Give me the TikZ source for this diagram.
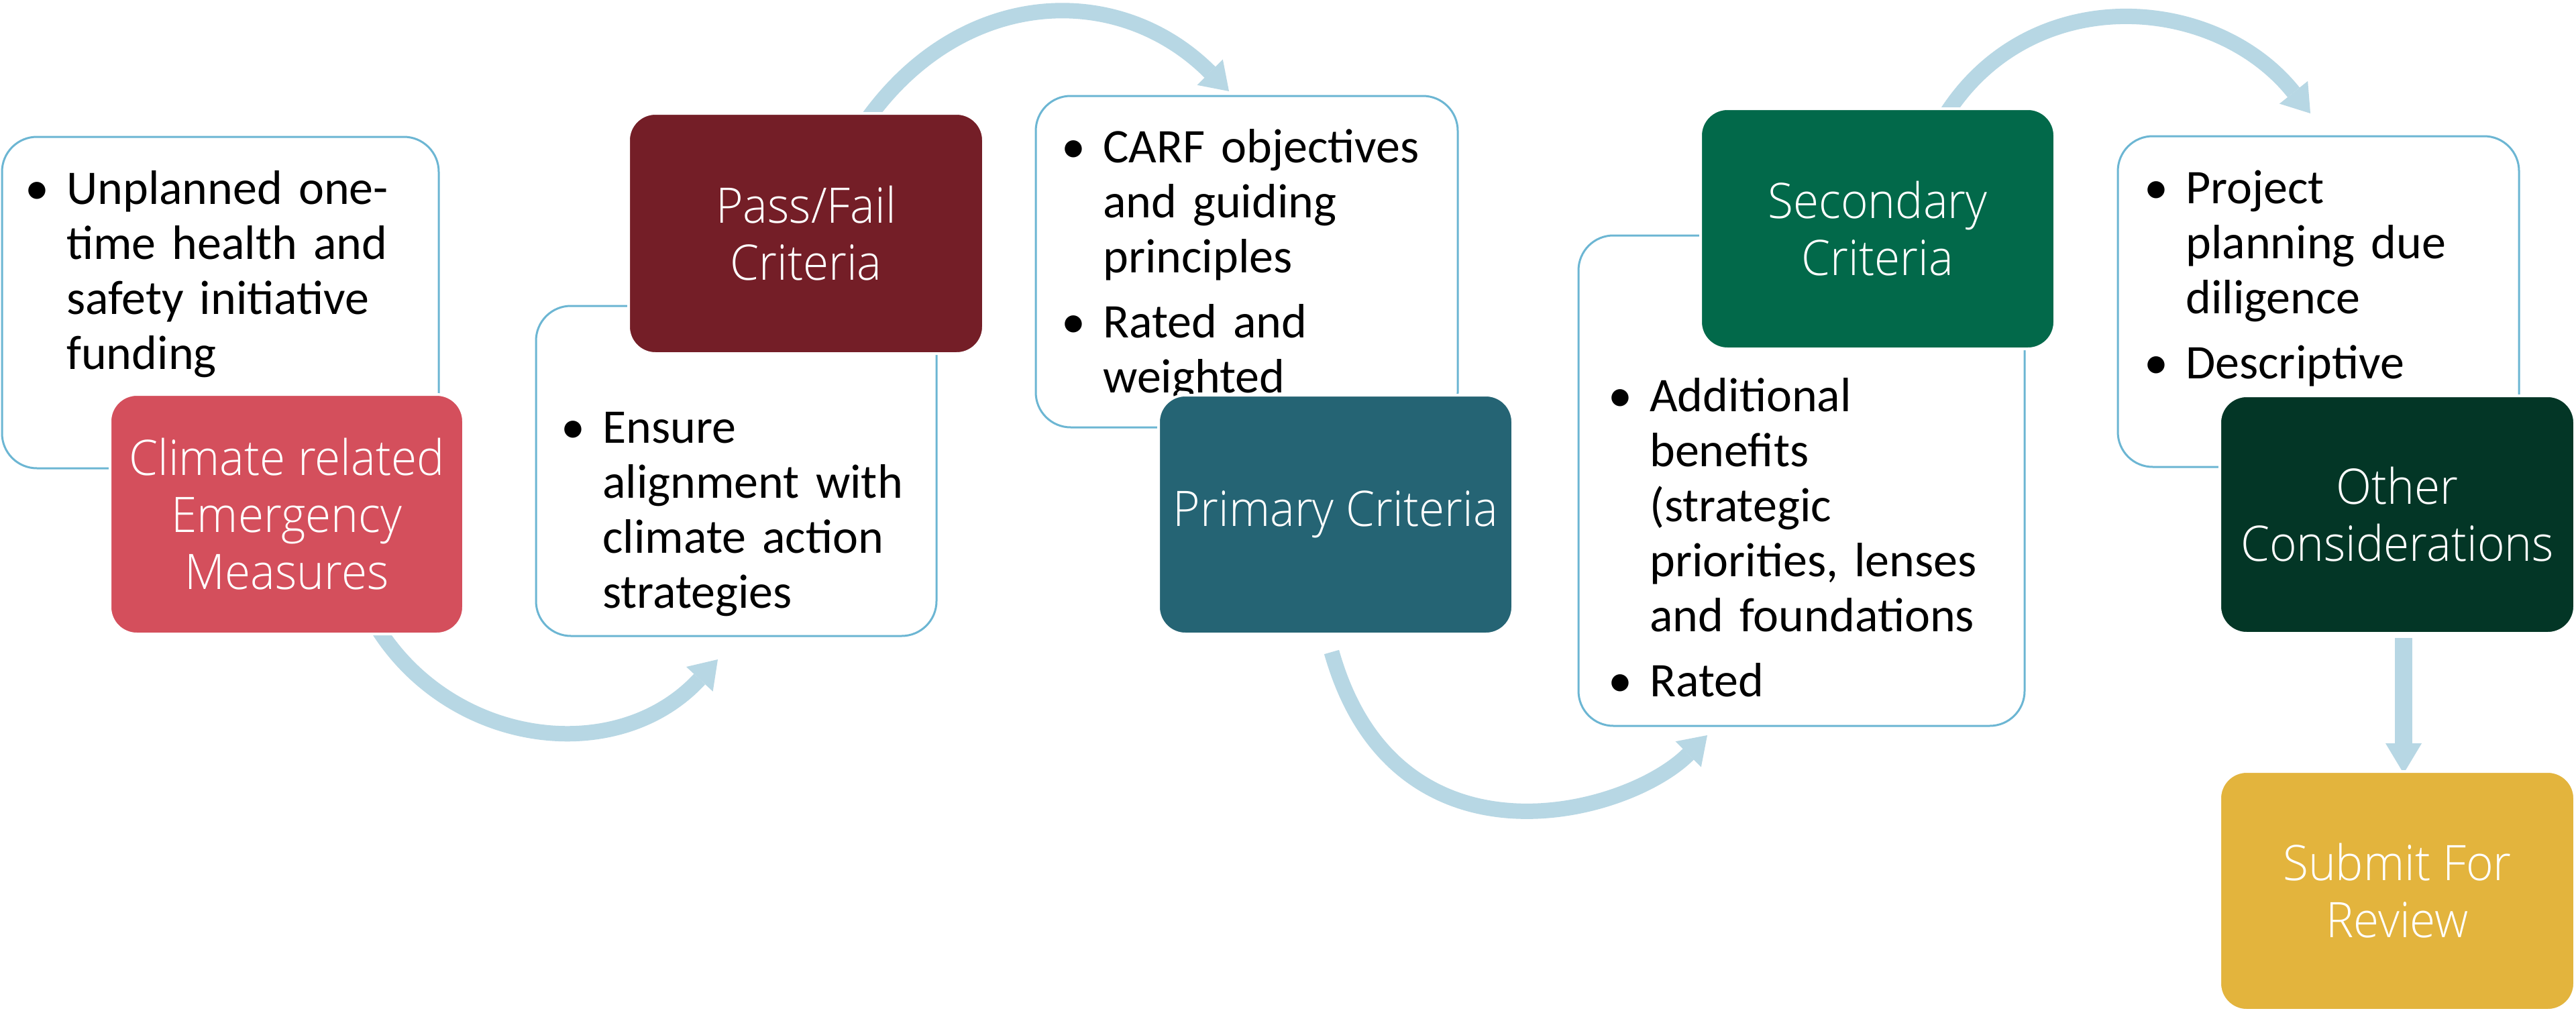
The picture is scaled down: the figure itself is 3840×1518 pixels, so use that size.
\documentclass[tikz,border=0pt]{standalone}
\usepackage{fontspec}
\setmainfont{Carlito}
\newfontfamily\wf{Open Sans Light}[FakeStretch=0.95]
\usetikzlibrary{arrows.meta}
\definecolor{bordc}{RGB}{108,182,211}
\definecolor{arrc}{RGB}{183,215,228}
\definecolor{redc}{RGB}{212,79,92}
\definecolor{maroonc}{RGB}{116,30,39}
\definecolor{tealc}{RGB}{37,100,116}
\definecolor{greenc}{RGB}{2,105,74}
\definecolor{dgreenc}{RGB}{3,54,38}
\definecolor{goldc}{RGB}{227,180,61}
\newcommand\bul{\leavevmode\strut\llap{\makebox[0pt]{•}\hspace*{44pt}}}
\begin{document}
\begin{tikzpicture}[x=1pt,y=-1pt,
  wbox/.style={draw=bordc, line width=3pt, fill=white, rounded corners=52pt, inner sep=0pt, outer sep=0pt, anchor=north west},
  cbox/.style={draw=white, line width=4pt, rounded corners=40pt, inner sep=0pt, outer sep=0pt, anchor=north west, text=white, align=center, font=\wf\fontsize{73}{85}\selectfont},
  btext/.style={anchor=north west, inner sep=0pt, text width=#1, align=left, font=\fontsize{72}{82}\selectfont\setlength\parindent{0pt}\setlength\parskip{15pt}},
  arr/.style={draw=arrc, line width=23pt, -{Triangle[length=40pt,width=54pt,line width=0pt]}}
]
\useasboundingbox (0,0) rectangle (3840,1518);
\fill[white] (0,0) rectangle (3840,1518);
% connector end points
\coordinate (a1) at (562,935);  \coordinate (a2) at (1070,983);
\coordinate (b1) at (1290,182); \coordinate (b2) at (1832,136);
\coordinate (c1) at (1985,972); \coordinate (c2) at (2545,1096);
\coordinate (d1) at (2898,175); \coordinate (d2) at (3444,169);
\coordinate (e1) at (3583,951); \coordinate (e2) at (3583,1153);
% curved arrows (behind the boxes)
\draw[arr] (a1) .. controls (673,1113) and (920,1145) .. (a2);
\draw[arr] (b1) .. controls (1431,-19) and (1666,-30) .. (b2);
\draw[arr] (c1) .. controls (2080,1308) and (2425,1216) .. (c2);
\draw[arr] (d1) .. controls (3024,-29) and (3301,-10) .. (d2);
\draw[draw=arrc, line width=26pt, -{Triangle[length=45pt,width=54pt,line width=0pt]}] (e1) -- (e2);
% step 1
\node[wbox, minimum width=651pt, minimum height=494pt] (w1) at (3,204) {};
\node[btext=560pt] (t1) at (99,246.6) {\bul Unplanned one-\\time health and\\safety initiative\\funding};
\node[cbox, fill=redc, minimum width=527pt, minimum height=357pt] (r) at (164,588) {Climate related\\Emergency\\Measures};
% step 2
\node[wbox, minimum width=597pt, minimum height=492pt] (w2) at (799,456) {};
\node[btext=480pt] (t2) at (898,602.6) {\bul Ensure\\alignment with\\climate action\\strategies};
\node[cbox, fill=maroonc, minimum width=529pt, minimum height=358pt] (m) at (937,169) {Pass/Fail\\Criteria};
% step 3
\node[wbox, minimum width=629pt, minimum height=494pt] (w3) at (1544,143) {};
\node[btext=520pt] (t3) at (1644,184.6) {\bul CARF objectives\\and guiding\\principles\par\bul Rated and\\weighted};
\node[cbox, fill=tealc, minimum width=528pt, minimum height=356pt] (t) at (1727,589) {Primary Criteria};
% step 4
\node[wbox, minimum width=665pt, minimum height=731pt] (w4) at (2353,351) {};
\node[btext=540pt] (t4) at (2459,555.6) {\bul Additional\\benefits\\(strategic\\priorities, lenses\\and foundations\par\bul Rated};
\node[cbox, fill=greenc, minimum width=528pt, minimum height=358pt] (g) at (2535,162) {Secondary\\Criteria};
% step 5
\node[wbox, minimum width=598pt, minimum height=493pt] (w5) at (3157,203) {};
\node[btext=480pt] (t5) at (3258,245.6) {\bul Project\\planning due\\diligence\par\bul Descriptive};
\node[cbox, fill=dgreenc, minimum width=529pt, minimum height=354pt] (dg) at (3309,590) {Other\\Considerations};
% final
\node[cbox, fill=goldc, minimum width=529pt, minimum height=356pt] (y) at (3309,1150) {Submit For\\Review};
\end{tikzpicture}
\end{document}
